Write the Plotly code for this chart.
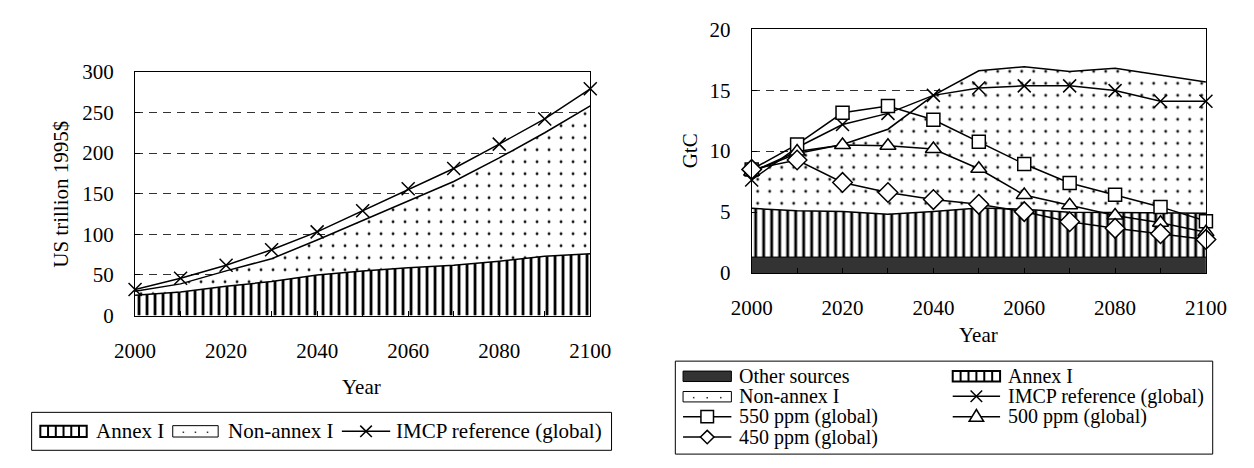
import plotly.graph_objects as go

# ---------------- data ----------------
years = [2000, 2010, 2020, 2030, 2040, 2050, 2060, 2070, 2080, 2090, 2100]

# Left chart: GDP (US trillion 1995$), stacked tops
gdp_annex1 = [25, 29, 36, 42, 50, 55, 59, 62, 67, 73, 76]
gdp_total = [30, 39, 55, 70, 93, 117, 141, 165, 194, 225, 258]
gdp_imcp_ref = [32, 46, 62, 81, 103, 129, 156, 181, 211, 242, 279]

# Right chart: emissions (GtC), stacked tops
em_other_top = [1.3, 1.3, 1.3, 1.3, 1.3, 1.3, 1.3, 1.3, 1.3, 1.3, 1.3]
em_annex1_top = [5.3, 5.1, 5.05, 4.82, 5.05, 5.33, 5.23, 4.98, 4.95, 4.93, 4.9]
em_total_top = [8.3, 9.8, 10.55, 11.8, 14.58, 16.6, 16.93, 16.54, 16.8, 16.22, 15.68]
em_imcp_ref = [7.63, 10.3, 12.19, 13.1, 14.58, 15.18, 15.36, 15.36, 14.97, 14.09, 14.09]
em_550 = [8.49, 10.55, 13.15, 13.7, 12.58, 10.76, 8.94, 7.38, 6.41, 5.42, 4.25]
em_500 = [8.3, 9.97, 10.5, 10.44, 10.18, 8.55, 6.39, 5.56, 4.72, 4.12, 3.34]
em_450 = [8.5, 9.27, 7.43, 6.6, 6.02, 5.63, 5.03, 4.2, 3.66, 3.21, 2.75]

x_ticks = [2000, 2020, 2040, 2060, 2080, 2100]

# ---------------- layout helpers ----------------
W, H = 1254, 468
FONT = '"Liberation Serif", "Times New Roman", "DejaVu Serif", serif'
FS = 21


def P(x):
    return x / W


def Q(y):
    return 1 - y / H


vhatch = dict(shape="|", size=8, solidity=0.35, fgcolor="black", fgopacity=1, bgcolor="white")
dots = dict(shape=".", size=12, solidity=0.045, fgcolor="#111111", fgopacity=1, bgcolor="white")

fig = go.Figure()

# ---- left chart ----
fig.add_trace(go.Scatter(x=years, y=gdp_annex1, mode="lines", fill="tozeroy",
                         fillcolor="white", fillpattern=vhatch,
                         line=dict(color="black", width=1.5),
                         xaxis="x", yaxis="y", showlegend=False, hoverinfo="skip"))
fig.add_trace(go.Scatter(x=years, y=gdp_total, mode="lines", fill="tonexty",
                         fillcolor="white", fillpattern=dots,
                         line=dict(color="black", width=1.5),
                         xaxis="x", yaxis="y", showlegend=False))
fig.add_trace(go.Scatter(x=years, y=gdp_imcp_ref, mode="lines+markers",
                         line=dict(color="black", width=1.5),
                         marker=dict(symbol="x-thin", size=13, color="black",
                                     line=dict(color="black", width=1.5)),
                         cliponaxis=False, xaxis="x", yaxis="y", showlegend=False))

# ---- right chart ----
fig.add_trace(go.Scatter(x=years, y=em_other_top, mode="lines", fill="tozeroy",
                         fillcolor="#333333", line=dict(color="black", width=1),
                         xaxis="x2", yaxis="y2", showlegend=False))
fig.add_trace(go.Scatter(x=years, y=em_annex1_top, mode="lines", fill="tonexty",
                         fillcolor="white", fillpattern=vhatch,
                         line=dict(color="black", width=1.5),
                         xaxis="x2", yaxis="y2", showlegend=False))
fig.add_trace(go.Scatter(x=years, y=em_total_top, mode="lines", fill="tonexty",
                         fillcolor="white", fillpattern=dots,
                         line=dict(color="black", width=1.5),
                         xaxis="x2", yaxis="y2", showlegend=False))
fig.add_trace(go.Scatter(x=years, y=em_imcp_ref, mode="lines+markers",
                         line=dict(color="black", width=1.5),
                         marker=dict(symbol="x-thin", size=13, color="black",
                                     line=dict(color="black", width=1.5)),
                         cliponaxis=False, xaxis="x2", yaxis="y2", showlegend=False))
for vals, sym, sz in [(em_550, "square", 13), (em_500, "triangle-up", 14),
                      (em_450, "diamond", 15)]:
    fig.add_trace(go.Scatter(x=years, y=vals, mode="lines+markers",
                             line=dict(color="black", width=1.5),
                             marker=dict(symbol=sym, size=sz, color="white",
                                         line=dict(color="black", width=1.5)),
                             cliponaxis=False, xaxis="x2", yaxis="y2", showlegend=False))

# ---- axes ----
tickfont = dict(family=FONT, size=FS, color="black")


def xaxis_cfg(domain):
    return dict(domain=domain, range=[2000, 2100], tickmode="array", tickvals=x_ticks,
                ticks="inside", ticklen=5, tickcolor="black",
                minor=dict(dtick=10, tick0=2000, ticks="inside", ticklen=5, tickcolor="black"),
                showline=True, mirror=True, linecolor="black", linewidth=1,
                showgrid=False, zeroline=False, tickfont=tickfont, ticklabelstandoff=16)


def yaxis_cfg(domain, rng, dtick, anchor):
    return dict(domain=domain, range=rng, dtick=dtick, tick0=0, anchor=anchor,
                ticks="inside", ticklen=5, tickcolor="black",
                showline=True, mirror=True, linecolor="black", linewidth=1,
                showgrid=True, gridcolor="#333333", gridwidth=1, griddash="8px,6px",
                zeroline=False, tickfont=tickfont, ticklabelstandoff=16)


fig.update_layout(
    width=W, height=H, margin=dict(l=0, r=0, t=0, b=0),
    paper_bgcolor="white", plot_bgcolor="white", showlegend=False,
    font=dict(family=FONT, size=FS, color="black"),
    xaxis=dict(**xaxis_cfg([P(118), P(589)]), anchor="y"),
    yaxis=yaxis_cfg([Q(320), Q(63)], [0, 300], 50, "x"),
    xaxis2=dict(**xaxis_cfg([P(756), P(1226)]), anchor="y2"),
    yaxis2=yaxis_cfg([Q(275), Q(18.3)], [0, 20], 5, "x2"),
)

# ---- axis titles ----
ann = []


def text(x, y, s, anchor="center", angle=0, size=FS):
    ann.append(dict(x=P(x), y=Q(y), xref="paper", yref="paper", text=s, showarrow=False,
                    xanchor=anchor, yanchor="middle", textangle=angle,
                    font=dict(family=FONT, size=size, color="black")))


text(352, 395, "Year")
text(42, 192, "US trillion 1995$", angle=-90)
text(991, 340, "Year")
text(692, 146, "GtC", angle=-90)

# ---- legends (drawn) ----
shapes = []


def rect(x0, y0, x1, y1, fill="rgba(0,0,0,0)", lw=1):
    shapes.append(dict(type="rect", xref="paper", yref="paper", x0=P(x0), x1=P(x1),
                       y0=Q(y1), y1=Q(y0), line=dict(color="black", width=lw), fillcolor=fill))


def seg(x0, y0, x1, y1, lw=1.5):
    shapes.append(dict(type="line", xref="paper", yref="paper", x0=P(x0), x1=P(x1),
                       y0=Q(y0), y1=Q(y1), line=dict(color="black", width=lw)))


def poly(pts, lw=1.5):
    d = "M " + " L ".join(f"{P(px):.6f},{Q(py):.6f}" for px, py in pts) + " Z"
    shapes.append(dict(type="path", xref="paper", yref="paper", path=d,
                       line=dict(color="black", width=lw), fillcolor="white"))


def hatch_swatch(x0, y0, x1, y1):
    rect(x0, y0, x1, y1, fill="white", lw=2)
    n = 6
    for i in range(1, n):
        xx = x0 + i * (x1 - x0) / n
        seg(xx, y0, xx, y1, lw=2)


def dot_swatch(x0, y0, x1, y1):
    rect(x0, y0, x1, y1, fill="white", lw=1)
    ym = (y0 + y1) / 2 + 1
    for xx in (x0 + 11, (x0 + x1) / 2, x1 - 11):
        shapes.append(dict(type="rect", xref="paper", yref="paper", x0=P(xx - 0.8), x1=P(xx + 0.8),
                           y0=Q(ym + 0.8), y1=Q(ym - 0.8), line=dict(width=0), fillcolor="#333333"))


def line_symbol(x0, x1, y, kind):
    seg(x0, y, x1, y, lw=1.5)
    xm = (x0 + x1) / 2
    r = 6.5
    if kind == "x":
        seg(xm - 6, y - 6, xm + 6, y + 6, lw=1.5)
        seg(xm - 6, y + 6, xm + 6, y - 6, lw=1.5)
    elif kind == "square":
        poly([(xm - r, y - r), (xm + r, y - r), (xm + r, y + r), (xm - r, y + r)])
    elif kind == "triangle":
        poly([(xm, y - 7.5), (xm + 7.5, y + 5), (xm - 7.5, y + 5)])
    elif kind == "diamond":
        poly([(xm, y - 7), (xm + 7, y), (xm, y + 7), (xm - 7, y)])


# left legend
rect(11, 422, 611, 462, fill="white", lw=1)
ly = 442
hatch_swatch(20, 436, 68, 448)
text(76, ly, "Annex I", anchor="left")
dot_swatch(157, 436, 204, 448)
text(212, ly, "Non-annex I", anchor="left")
line_symbol(332, 382, ly, "x")
text(386, ly, "IMCP reference (global)", anchor="left")

# right legend
LFS = 20
rect(677, 368, 1233, 466, fill="white", lw=1)
rows = [383.5, 405, 426.5, 448]
c1s, c1e, c1t = 685, 735, 741
c2s, c2e, c2t = 964, 1013, 1019
rect(c1s, rows[0] - 5, c1e, rows[0] + 6, fill="#333333", lw=1)
text(c1t, rows[0], "Other sources", anchor="left", size=LFS)
hatch_swatch(c2s, rows[0] - 5, c2e, rows[0] + 6)
text(c2t, rows[0], "Annex I", anchor="left", size=LFS)
dot_swatch(c1s, rows[1] - 5, c1e, rows[1] + 6)
text(c1t, rows[1], "Non-annex I", anchor="left", size=LFS)
line_symbol(c2s, c2e, rows[1], "x")
text(c2t, rows[1], "IMCP reference (global)", anchor="left", size=LFS)
line_symbol(c1s, c1e, rows[2], "square")
text(c1t, rows[2], "550 ppm (global)", anchor="left", size=LFS)
line_symbol(c2s, c2e, rows[2], "triangle")
text(c2t, rows[2], "500 ppm (global)", anchor="left", size=LFS)
line_symbol(c1s, c1e, rows[3], "diamond")
text(c1t, rows[3], "450 ppm (global)", anchor="left", size=LFS)

fig.update_layout(annotations=ann, shapes=shapes)

fig.write_html("out.html")
